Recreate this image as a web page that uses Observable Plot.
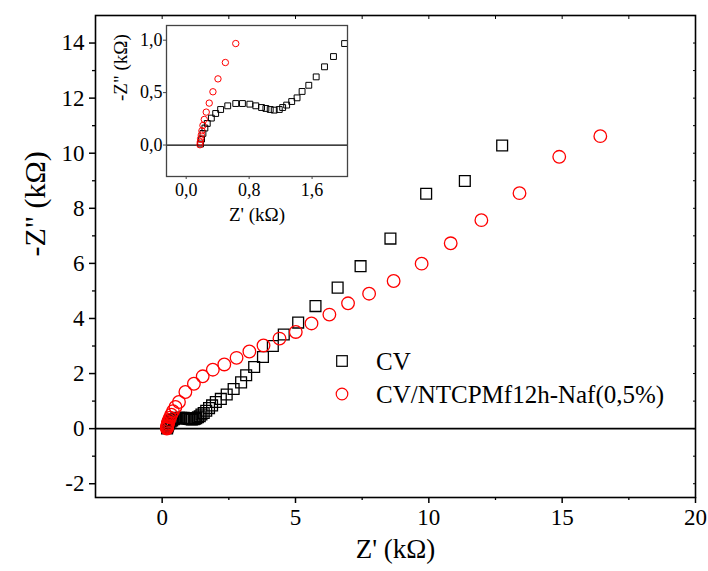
<!DOCTYPE html>
<html>
<head>
<meta charset="utf-8">
<script src="https://cdn.jsdelivr.net/npm/d3@7"></script>
<script src="https://cdn.jsdelivr.net/npm/@observablehq/plot@0.6"></script>
<style>
  html, body { margin: 0; padding: 0; background: #fff; }
  #wrap { position: relative; width: 708px; height: 571px; overflow: hidden; font-family: "Liberation Serif", "Times New Roman", serif; }
  #wrap svg { position: absolute; }
  #wrap svg text { font-family: "Liberation Serif", "Times New Roman", serif; }
</style>
</head>
<body>
<div id="wrap"></div>
<script>
// ---- Data (kΩ) ----
const cvZre = [0.183,0.196,0.213,0.238,0.268,0.320,0.375,0.438,0.528,0.630,0.715,0.809,0.885,0.958,1.013,1.068,1.119,1.183,1.226,1.277,1.341,1.409,1.473,1.558,1.652,1.758,1.872,2.013,2.20,2.42,2.68,2.96,3.15,3.45,3.78,4.15,4.56,5.10,5.75,6.58,7.44,8.56,9.90,11.35,12.75];
const cvZim = [0.010,0.057,0.111,0.162,0.206,0.257,0.301,0.339,0.374,0.396,0.396,0.390,0.374,0.358,0.349,0.339,0.333,0.339,0.358,0.381,0.415,0.450,0.511,0.570,0.650,0.746,0.844,0.968,1.08,1.24,1.44,1.68,1.94,2.24,2.60,3.00,3.42,3.85,4.45,5.12,5.90,6.90,8.53,8.99,10.28];

const ntcZre = [0.175,0.179,0.183,0.192,0.200,0.213,0.230,0.255,0.293,0.340,0.404,0.498,0.630,0.87,1.19,1.52,1.90,2.33,2.79,3.27,3.80,4.40,5.01,5.60,6.27,6.97,7.76,8.68,9.73,10.82,11.97,13.40,14.89,16.43];
const ntcZim = [0.003,0.028,0.060,0.095,0.136,0.187,0.244,0.314,0.400,0.508,0.631,0.787,0.968,1.33,1.63,1.90,2.14,2.33,2.57,2.80,3.02,3.27,3.51,3.82,4.14,4.55,4.90,5.36,5.99,6.73,7.57,8.55,9.87,10.62];

const seriesNames = ["CV", "CV/NTCPMf12h-Naf(0,5%)"];
const seriesColors = ["black", "red"];

const mainXTicks = [0, 5, 10, 15, 20];
const mainXMinor = [-2.5, 2.5, 7.5, 12.5, 17.5];
const mainYTicks = [-2, 0, 2, 4, 6, 8, 10, 12, 14];
const mainYMinor = [-1, 1, 3, 5, 7, 9, 11, 13, 15];
const insetXTicks = [0, 0.8, 1.6];
const insetYTicks = [0, 0.5, 1.0];

const xTitle = "Z' (kΩ)";
const yTitle = "-Z\" (kΩ)";

// ---- build tables ----
const cv = cvZre.map((x, i) => ({x, y: cvZim[i]}));
const ntc = ntcZre.map((x, i) => ({x, y: ntcZim[i]}));

const font = "'Liberation Serif', 'Times New Roman', serif";
const comma = d => d3.format(".1f")(d).replace(".", ",");
const plain = d => String(d);

const main = Plot.plot({
  width: 708, height: 571,
  marginLeft: 95, marginRight: 13, marginTop: 15, marginBottom: 74,
  x: {domain: [-2.5, 20]},
  y: {domain: [-2.5, 15]},
  style: {fontFamily: font, fontSize: "23px", background: "transparent", color: "black"},
  marks: [
    Plot.ruleY([0], {stroke: "black", strokeWidth: 1.6}),
    Plot.dot(cv, {x: "x", y: "y", symbol: "square", r: 6.1, stroke: seriesColors[0], strokeWidth: 1.3, fill: "none", clip: true}),
    Plot.dot(ntc, {x: "x", y: "y", symbol: "circle", r: 6.3, stroke: seriesColors[1], strokeWidth: 1.3, fill: "none", clip: true}),
    Plot.axisX({ticks: mainXTicks, tickSize: 6, tickPadding: 5, strokeWidth: 1.5, label: null, fontSize: 23, tickFormat: plain}),
    Plot.axisX({ticks: mainXMinor.filter(d => d > -2.5), tickSize: 3, strokeWidth: 1.3, fill: "none", label: null}),
    Plot.axisX({anchor: "top", ticks: mainXTicks.concat(mainXMinor).filter(d => d > -2.5 && d < 20), tickSize: -3, strokeWidth: 1, fill: "none", label: null}),
    Plot.axisY({ticks: mainYTicks, tickSize: 6, tickPadding: 5, strokeWidth: 1.5, label: null, fontSize: 23, tickFormat: plain}),
    Plot.axisY({ticks: mainYMinor.filter(d => d < 15), tickSize: 3, strokeWidth: 1.3, fill: "none", label: null}),
    Plot.axisY({anchor: "right", ticks: mainYTicks.concat(mainYMinor).filter(d => d < 15), tickSize: -3, strokeWidth: 1, fill: "none", label: null}),
    Plot.frame({stroke: "black", strokeWidth: 1.6}),
    Plot.text([xTitle], {frameAnchor: "bottom", dy: 60, fontSize: 27, fill: "black"}),
    Plot.text([yTitle], {frameAnchor: "left", dx: -60, rotate: -90, fontSize: 30, fill: "black"})
  ]
});
main.style.left = "0px"; main.style.top = "0px";

const inset = Plot.plot({
  width: 260, height: 215,
  marginLeft: 66, marginRight: 13, marginTop: 5, marginBottom: 59,
  x: {domain: [-0.25, 2.05]},
  y: {domain: [-0.3, 1.14]},
  style: {fontFamily: font, fontSize: "18px", background: "transparent", color: "black"},
  marks: [
    Plot.ruleY([0], {stroke: "black", strokeWidth: 1.2}),
    Plot.dot(cv, {x: "x", y: "y", symbol: "square", r: 3.3, stroke: seriesColors[0], strokeWidth: 1, fill: "none", clip: true}),
    Plot.dot(ntc, {x: "x", y: "y", symbol: "circle", r: 3.2, stroke: seriesColors[1], strokeWidth: 1, fill: "none", clip: true}),
    Plot.axisX({ticks: insetXTicks, tickSize: 3, tickPadding: 4, tickFormat: comma, label: null, stroke: "#444"}),
    Plot.axisY({ticks: insetYTicks, tickSize: 3, tickPadding: 1, tickFormat: comma, label: null, stroke: "#444"}),
    Plot.frame({stroke: "#444", strokeWidth: 1.3}),
    Plot.text([xTitle], {frameAnchor: "bottom", dy: 44, fontSize: 19, fill: "black"}),
    Plot.text([yTitle], {frameAnchor: "left", dx: -46, rotate: -90, fontSize: 19, fill: "black"})
  ]
});
inset.style.left = "100px"; inset.style.top = "20px";

const wrap = document.getElementById("wrap");
wrap.appendChild(main);
wrap.appendChild(inset);

// ---- legend ----
const leg = d3.create("svg").attr("width", 380).attr("height", 80)
  .style("left", "320px").style("top", "340px");
seriesNames.forEach((name, i) => {
  const cy = 21 + i * 33;
  if (i === 0) {
    leg.append("rect").attr("x", 22 - 5.3).attr("y", cy - 5.3).attr("width", 10.6).attr("height", 10.6)
      .attr("fill", "none").attr("stroke", seriesColors[i]).attr("stroke-width", 1.2);
  } else {
    leg.append("circle").attr("cx", 22).attr("cy", cy).attr("r", 5.8)
      .attr("fill", "none").attr("stroke", seriesColors[i]).attr("stroke-width", 1.2);
  }
  leg.append("text").attr("x", 56).attr("y", cy).attr("dy", "0.35em")
    .attr("font-size", 25).attr("fill", "black").text(name);
});
wrap.appendChild(leg.node());
</script>
</body>
</html>
